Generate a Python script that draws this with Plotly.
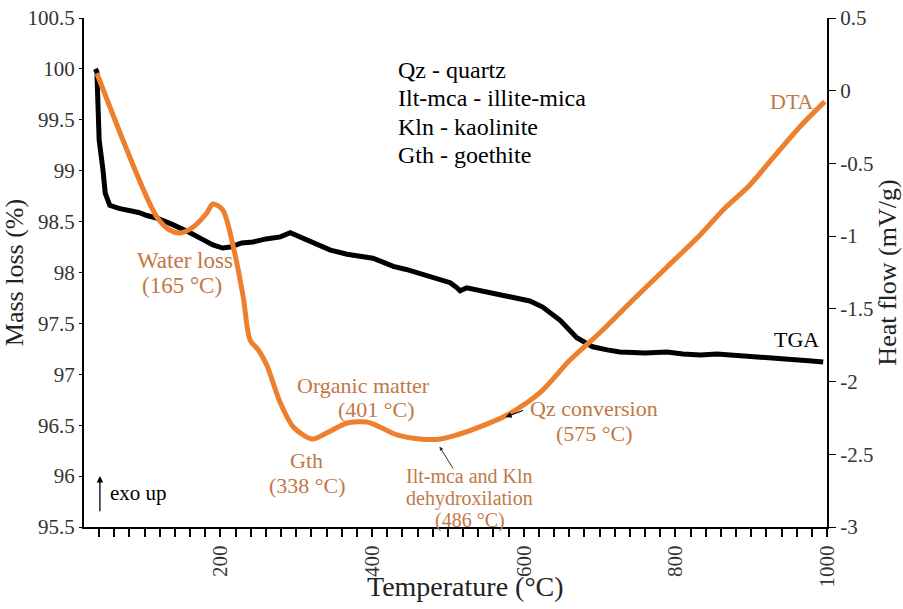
import plotly.graph_objects as go

# TGA (mass loss, %) vs temperature
tga_temp = [35, 37, 40, 42, 45, 48, 54, 66, 81, 92, 103, 118, 137, 150, 160, 175, 190, 203, 213, 228,
            243, 260, 279, 292, 305, 322, 345, 367, 385, 401, 415, 428, 445, 463, 485, 503, 512, 516,
            525, 545, 560, 578, 595, 608, 625, 648, 670, 691, 710, 727, 760, 789, 810, 833, 855, 876,
            900, 921, 940, 964, 980, 995]
tga_mass = [100.0, 99.97, 99.30, 99.20, 99.01, 98.78, 98.66, 98.63, 98.61, 98.59, 98.56, 98.53, 98.47,
            98.43, 98.39, 98.33, 98.27, 98.24, 98.25, 98.29, 98.30, 98.33, 98.35, 98.39, 98.35, 98.30,
            98.22, 98.18, 98.16, 98.14, 98.10, 98.06, 98.03, 97.99, 97.95, 97.90, 97.85, 97.82, 97.85,
            97.82, 97.79, 97.77, 97.75, 97.72, 97.66, 97.53, 97.36, 97.27, 97.24, 97.22, 97.21, 97.22,
            97.20, 97.19, 97.20, 97.19, 97.18, 97.17, 97.15, 97.14, 97.13, 97.12]

# DTA (heat flow, mV/g) vs temperature
dta_temp = [37, 116, 133, 147, 164, 182, 190, 203, 217, 230, 239, 250, 261, 279, 296, 321, 340, 367,
            393, 410, 433, 463, 490, 512, 542, 578, 621, 661, 700, 744, 789, 833, 863, 898, 929, 964, 997]
dta_heat = [0.12, -0.868, -0.958, -0.978, -0.937, -0.841, -0.779, -0.82, -1.075, -1.418, -1.714,
            -1.783, -1.886, -2.147, -2.312, -2.395, -2.354, -2.285, -2.278, -2.312, -2.367, -2.395,
            -2.395, -2.367, -2.312, -2.23, -2.078, -1.852, -1.666, -1.439, -1.212, -0.990, -0.820,
            -0.650, -0.460, -0.249, -0.075]

left_ticks = [95.5, 96, 96.5, 97, 97.5, 98, 98.5, 99, 99.5, 100, 100.5]
left_labels = ["95.5", "96", "96.5", "97", "97.5", "98", "98.5", "99", "99.5", "100", "100.5"]
right_ticks = [-3, -2.5, -2, -1.5, -1, -0.5, 0, 0.5]
right_labels = ["-3", "-2.5", "-2", "-1.5", "-1", "-0.5", "0", "0.5"]
x_ticks = [200, 400, 600, 800, 1000]
x_minor_step = 20

legend_lines = ["Qz - quartz", "Ilt-mca - illite-mica", "Kln - kaolinite", "Gth - goethite"]

ORANGE = "#EE7F2D"
TXT_OR = "#C27846"
FONT = "Liberation Serif"

x_tickvals = list(range(x_minor_step * 2, 1001, x_minor_step))
x_ticktext = [str(v) if v in x_ticks else "" for v in x_tickvals]

y_lo, y_hi = left_ticks[0], left_ticks[-1]
plot_h_px = 609 - 18 - 82
tick_px = 7
tick_y = y_lo - (tick_px / 2) * (y_hi - y_lo) / plot_h_px

fig = go.Figure()
fig.add_trace(go.Scatter(x=tga_temp, y=tga_mass, mode="lines",
                         line=dict(color="black", width=5), yaxis="y", showlegend=False))
fig.add_trace(go.Scatter(x=dta_temp, y=dta_heat, mode="lines",
                         line=dict(color=ORANGE, width=5, shape="spline", smoothing=0.8),
                         yaxis="y2", showlegend=False))
# small tick marks along the temperature axis (every 20 °C)
fig.add_trace(go.Scatter(x=x_tickvals, y=[tick_y] * len(x_tickvals), mode="markers",
                         marker=dict(symbol="line-ns", size=tick_px,
                                     line=dict(color="black", width=1.5)),
                         cliponaxis=False, yaxis="y", showlegend=False, hoverinfo="skip"))

anns = []
for i, t in enumerate(legend_lines):
    anns.append(dict(x=432, y=[99.99, 99.71, 99.43, 99.15][i], xref="x", yref="y", text=t,
                     showarrow=False, xanchor="left", yanchor="middle",
                     font=dict(family=FONT, size=24, color="black")))

orange_texts = [
    ("Water loss", 153, 98.12, 23), ("(165 °C)", 149, 97.87, 23),
    ("Organic matter", 388, 96.89, 22), ("(401 °C)", 406, 96.65, 22),
    ("Gth", 314, 96.15, 22), ("(338 °C)", 315, 95.91, 22),
    ("Ilt-mca and Kln", 529, 96.0, 20), ("dehydroxilation", 529, 95.78, 20), ("(486 °C)", 529, 95.56, 20),
    ("Qz conversion", 693, 96.66, 22), ("(575 °C)", 693, 96.42, 22),
    ("DTA", 954, 99.68, 22),
]
for t, x, y, s in orange_texts:
    anns.append(dict(x=x, y=y, xref="x", yref="y", text=t, showarrow=False,
                     xanchor="center", yanchor="middle",
                     font=dict(family=FONT, size=s, color=TXT_OR)))

anns.append(dict(x=960, y=97.34, xref="x", yref="y", text="TGA", showarrow=False,
                 xanchor="center", yanchor="middle", font=dict(family=FONT, size=22, color="black")))
anns.append(dict(x=52, y=95.83, xref="x", yref="y", text="exo up", showarrow=False,
                 xanchor="left", yanchor="middle", font=dict(family=FONT, size=21, color="black")))
anns.append(dict(x=41, y=96.0, ax=41, ay=95.64, xref="x", yref="y", axref="x", ayref="y",
                 text="", showarrow=True, arrowhead=2, arrowsize=1, arrowwidth=1.3, arrowcolor="black"))
anns.append(dict(x=576, y=96.58, ax=601, ay=96.65, xref="x", yref="y", axref="x", ayref="y",
                 text="", showarrow=True, arrowhead=2, arrowsize=1, arrowwidth=1.2, arrowcolor="black"))
anns.append(dict(x=489, y=96.29, ax=508, ay=96.06, xref="x", yref="y", axref="x", ayref="y",
                 text="", showarrow=True, arrowhead=2, arrowsize=0.8, arrowwidth=1, arrowcolor="#333"))
anns.append(dict(x=0.514, y=-0.083, xref="paper", yref="paper", text="Temperature (°C)",
                 showarrow=False, xanchor="center", yanchor="top",
                 font=dict(family=FONT, size=28, color="#222")))

fig.update_layout(
    width=903, height=609,
    margin=dict(l=84, r=76, t=18, b=82, autoexpand=False),
    paper_bgcolor="white", plot_bgcolor="white",
    font=dict(family=FONT, color="#333"),
    annotations=anns,
    xaxis=dict(range=[20, 1000], tickvals=x_tickvals, ticktext=x_ticktext, tickangle=-90,
               ticks="outside", ticklen=8, tickwidth=1.5, tickcolor="black", showline=True,
               linecolor="black", linewidth=2, showgrid=False, zeroline=False, automargin=False,
               tickfont=dict(family=FONT, size=21, color="#333")),
    yaxis=dict(range=[y_lo, y_hi], tickvals=left_ticks, ticktext=left_labels, ticks="outside",
               ticklen=3, tickcolor="black", showline=True, linecolor="black", linewidth=2,
               showgrid=False, zeroline=False, automargin=False,
               tickfont=dict(family=FONT, size=21, color="#333"),
               title=dict(text="Mass loss (%)", font=dict(family=FONT, size=26, color="#222"), standoff=6)),
    yaxis2=dict(range=[-3, 0.5], overlaying="y", side="right", tickvals=right_ticks,
                ticktext=right_labels, ticks="outside", ticklen=7, tickcolor="black",
                showline=True, linecolor="black", linewidth=2, showgrid=False, zeroline=False,
                automargin=False, tickfont=dict(family=FONT, size=21, color="#333"),
                title=dict(text="Heat flow (mV/g)", font=dict(family=FONT, size=26, color="#222"), standoff=0)),
)

fig.write_html("out.html")
